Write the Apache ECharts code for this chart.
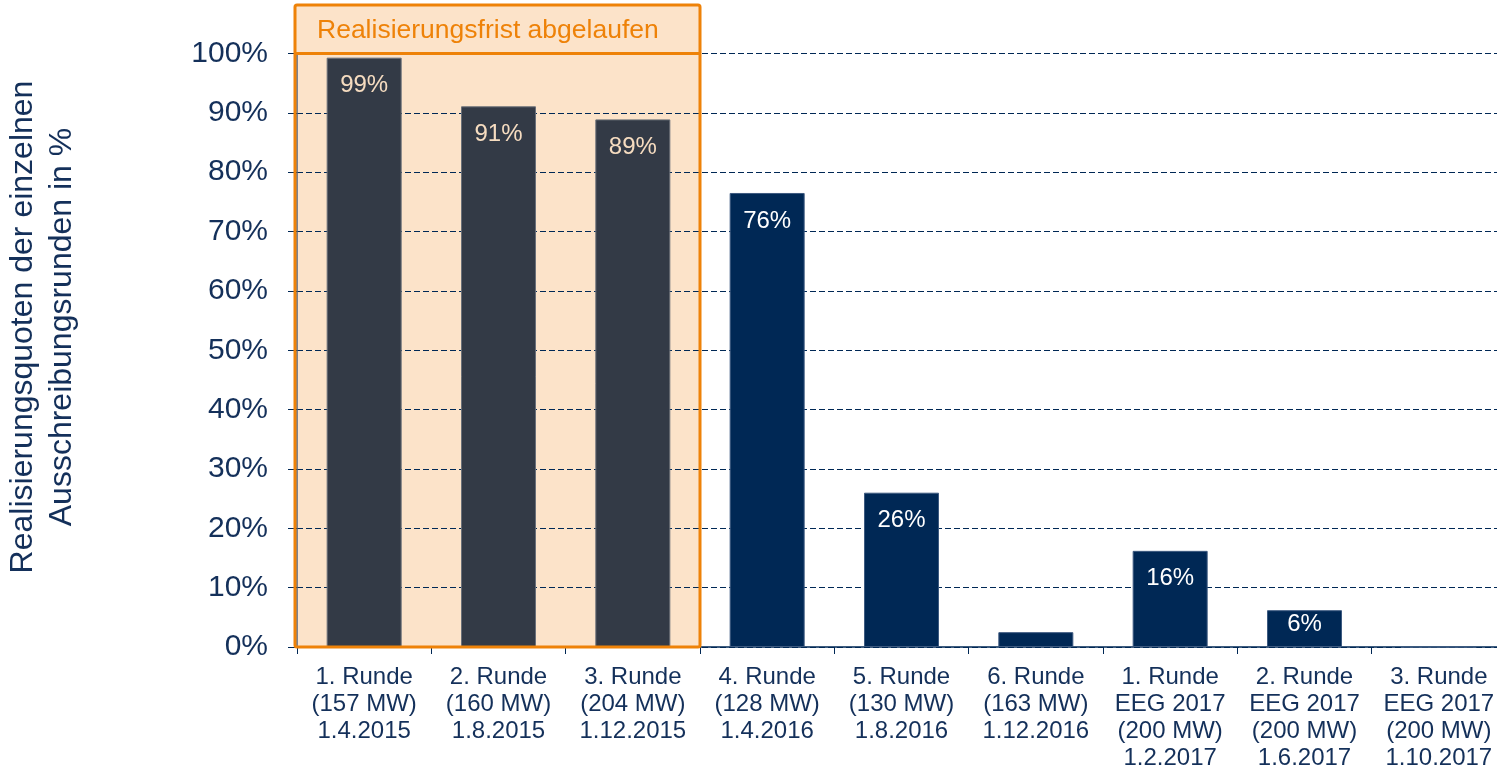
<!DOCTYPE html>
<html><head><meta charset="utf-8">
<script src="https://cdn.jsdelivr.net/npm/echarts@6/dist/echarts.min.js"></script>
<style>html,body{margin:0;padding:0;background:#fff}#c{width:1497px;height:769px}</style>
</head><body><div id="c"></div>
<script>
const categories = [
  "1. Runde\n(157 MW)\n1.4.2015",
  "2. Runde\n(160 MW)\n1.8.2015",
  "3. Runde\n(204 MW)\n1.12.2015",
  "4. Runde\n(128 MW)\n1.4.2016",
  "5. Runde\n(130 MW)\n1.8.2016",
  "6. Runde\n(163 MW)\n1.12.2016",
  "1. Runde\nEEG 2017\n(200 MW)\n1.2.2017",
  "2. Runde\nEEG 2017\n(200 MW)\n1.6.2017",
  "3. Runde\nEEG 2017\n(200 MW)\n1.10.2017"
];
const values = [99.3, 91.1, 88.9, 76.5, 26.0, 2.5, 16.2, 6.2, 0];
const valueLabels = ["99%", "91%", "89%", "76%", "26%", "", "16%", "6%", ""];
const expiredCount = 3;
const yTicks = [0,10,20,30,40,50,60,70,80,90,100];
const boxTitle = "Realisierungsfrist abgelaufen";
const yAxisTitle = "Realisierungsquoten der einzelnen\nAusschreibungsrunden in %";

const NAVY = "#002855", GRAY = "#333a46", TXT = "#14305a", ORANGE = "#ee8208", PEACH = "#fce3c9";
const chart = echarts.init(document.getElementById('c'));
const font = "Arial, 'Liberation Sans', sans-serif";
chart.setOption({
  animation: false,
  grid: {left: 297, right: -9, top: 53.5, bottom: 122, containLabel: false, outerBoundsMode: 'none'},
  xAxis: {
    type: 'category', data: categories,
    axisLine: {lineStyle: {color: NAVY, width: 1.5}},
    axisTick: {show: true, length: 7, lineStyle: {color: NAVY}},
    axisLabel: {color: TXT, fontSize: 24, fontFamily: font, lineHeight: 27, margin: 17, interval: 0}
  },
  yAxis: {
    type: 'value', min: yTicks[0], max: yTicks[yTicks.length-1], interval: 10,
    axisLine: {show: true, lineStyle: {color: '#50627e', width: 1.5}},
    axisTick: {show: true, length: 9, lineStyle: {color: NAVY}},
    axisLabel: {color: TXT, fontSize: 30, fontFamily: font, margin: 29, formatter: v => v + '%'},
    splitLine: {show: true, lineStyle: {color: NAVY, type: [6, 3], width: 1.2}}
  },
  series: [{
    type: 'bar', barWidth: 75, z: 5,
    data: values.map((v, i) => ({
      value: v,
      itemStyle: {color: i < expiredCount ? GRAY : NAVY, borderColor: i < expiredCount ? '#6b7079' : '#3d5a80', borderWidth: 1},
      label: {show: valueLabels[i] !== '', formatter: valueLabels[i], distance: v < 10 ? 2 : 16,
              color: i < expiredCount ? '#f6dcc0' : '#ffffff'}
    })),
    label: {position: 'insideTop', distance: 16, fontSize: 24, fontFamily: font}
  }]
});

function drawBox() {
  const x0 = chart.convertToPixel({xAxisIndex: 0}, 0);
  const x1 = chart.convertToPixel({xAxisIndex: 0}, 1);
  const step = x1 - x0;
  const left = x0 - step / 2 - 2;
  const right = x0 + step * (expiredCount - 0.5);
  const yTop = chart.convertToPixel({yAxisIndex: 0}, 100);
  const yBot = chart.convertToPixel({yAxisIndex: 0}, 0);
  const top = 5;
  chart.setOption({
    graphic: [
      {type: 'rect', z: -10, shape: {x: left, y: top, width: right - left, height: yBot - top}, style: {fill: PEACH}},
      {type: 'rect', z: 100, shape: {x: left, y: top, width: right - left, height: yBot - top, r: 2}, style: {fill: null, stroke: ORANGE, lineWidth: 3}},
      {type: 'line', z: 100, shape: {x1: left, y1: yTop, x2: right, y2: yTop}, style: {stroke: ORANGE, lineWidth: 3}},
      {type: 'text', z: 101, x: left + 22, y: (top + yTop) / 2 + 1, style: {text: boxTitle, fill: ORANGE, font: '26.5px ' + font, textVerticalAlign: 'middle'}},
      {type: 'text', z: 101, x: 43, y: 327, rotation: Math.PI / 2,
       style: {text: yAxisTitle, fill: TXT, font: '32px ' + font, lineHeight: 39, textAlign: 'center', textVerticalAlign: 'middle'}}
    ]
  });
}
drawBox();
</script></body></html>
